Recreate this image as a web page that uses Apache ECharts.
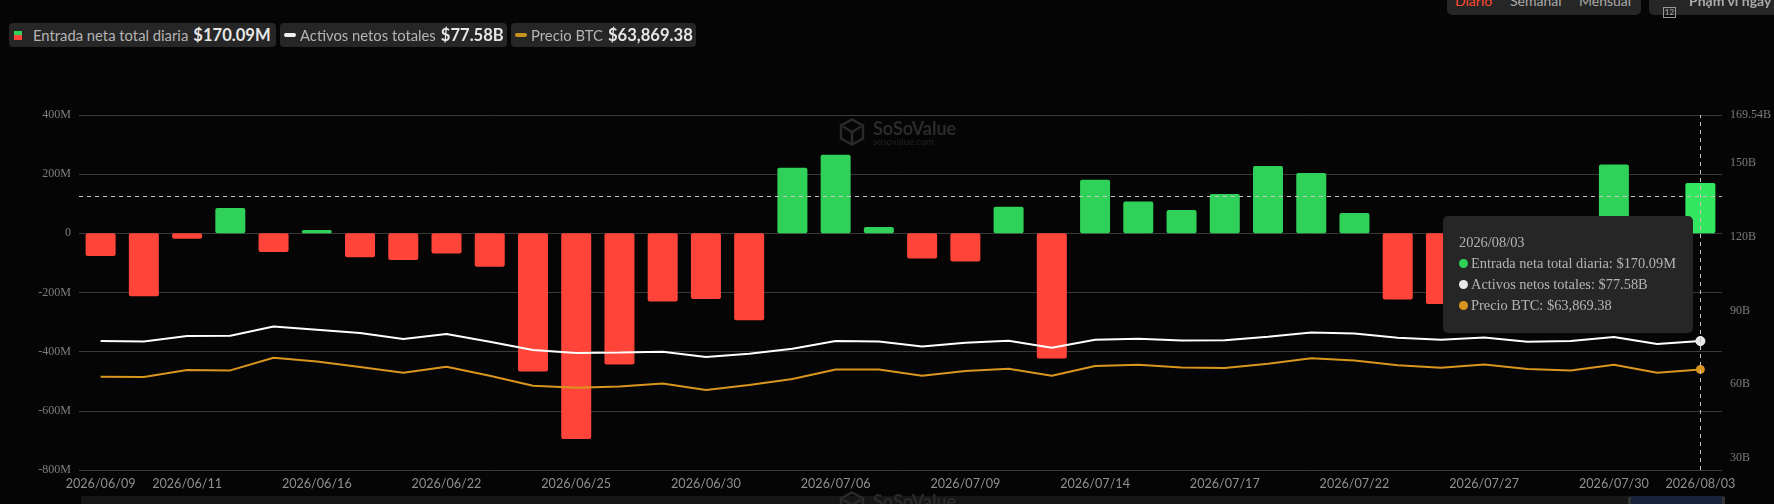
<!DOCTYPE html>
<html>
<head>
<meta charset="utf-8">
<title>Entrada neta total diaria</title>
<script src="https://cdn.jsdelivr.net/npm/echarts@6/dist/echarts.min.js"></script>
<style>
html,body{margin:0;padding:0;background:#050505;width:1774px;height:504px;overflow:hidden}
#main{position:absolute;left:0;top:0;width:1774px;height:504px}
.chip{position:absolute;top:23px;height:24px;background:#262626;border-radius:4px;box-sizing:border-box;display:flex;align-items:center;white-space:nowrap;font-family:Lato,sans-serif;color:#b4b4b4;font-size:14.8px;z-index:5}
.chip b{color:#e6e6e6;font-size:16.6px;font-weight:700;margin-left:5px}
.pill{width:12px;height:4px;border-radius:2px;margin-right:4px}
.sq{width:8px;height:9px;margin-right:11px;background:linear-gradient(#30d158 50%,#ff453a 50%)}
.top{position:absolute;top:-10px;height:25px;background:#262626;border-radius:5px;font-family:Lato,sans-serif;font-size:14px;color:#aaa;z-index:5;white-space:nowrap}
.top span{position:absolute;top:2px}
.cal{position:absolute;left:14px;top:17px;width:13px;height:11px;border:1px solid #999;box-sizing:border-box;font-size:8px;line-height:9px;text-align:center;color:#aaa;font-style:normal}
</style>
</head>
<body>
<div id="main"></div>
<div class="chip" style="left:9px;width:267px;padding-left:5px"><i class="sq"></i><span id="l0"></span><b id="v0"></b></div>
<div class="chip" style="left:280px;width:227px;padding-left:4px"><i class="pill" style="background:#f0f0f0"></i><span id="l1"></span><b id="v1"></b></div>
<div class="chip" style="left:511px;width:185px;padding-left:4px"><i class="pill" style="background:#c8921e"></i><span id="l2"></span><b id="v2"></b></div>
<div class="top" style="left:1447px;width:194px"><span style="left:8px;color:#ff4a32">Diario</span><span style="left:63px">Semanal</span><span style="left:132px">Mensual</span></div>
<div class="top" style="left:1649px;width:140px"><i class="cal">12</i><span style="left:40px;font-weight:700">Phạm vi ngày</span></div>
<script>
const names = ['Entrada neta total diaria', 'Activos netos totales', 'Precio BTC'];
const dates = ['2026/06/09','2026/06/10','2026/06/11','2026/06/12','2026/06/15','2026/06/16','2026/06/17','2026/06/18','2026/06/22','2026/06/23','2026/06/24','2026/06/25','2026/06/26','2026/06/29','2026/06/30','2026/07/01','2026/07/02','2026/07/06','2026/07/07','2026/07/08','2026/07/09','2026/07/10','2026/07/13','2026/07/14','2026/07/15','2026/07/16','2026/07/17','2026/07/20','2026/07/21','2026/07/22','2026/07/23','2026/07/24','2026/07/27','2026/07/28','2026/07/29','2026/07/30','2026/07/31','2026/08/03'];
const dateLabels = ['2026/06/09','2026/06/11','2026/06/16','2026/06/22','2026/06/25','2026/06/30','2026/07/06','2026/07/09','2026/07/14','2026/07/17','2026/07/22','2026/07/27','2026/07/30','2026/08/03'];
const netInflow = [-77,-213,-18,86,-63,11,-81,-90,-68,-113,-467,-695,-443,-230,-222,-294,222,266,21,-85,-95,90,-423,181,108,79,133,228,204,69,-224,-239,-100,-60,40,233,-80,170.09];
const netAssets = [77.58,77.42,79.61,79.74,83.52,82.18,80.83,78.39,80.43,77.30,73.92,72.70,72.94,73.23,71.07,72.41,74.45,77.58,77.42,75.38,76.89,77.70,74.85,78.11,78.52,77.82,77.90,79.33,81.08,80.63,78.92,78.11,79.04,77.30,77.58,79.21,76.36,77.58];
const btcPrice = [60899,60777,63625,63462,68629,67124,64845,62526,64967,61306,57238,56424,56953,58173,55488,57522,59963,63869,63869,61306,63218,64154,61306,65252,65781,64683,64479,66188,68425,67490,65578,64561,65903,64032,63462,65781,62526,63869.38];
const rightTicks = [169.54,150,120,90,60,30];
const crosshairInflow = 125.7;

const last = dates.length - 1;
const fmtInflow = '$' + netInflow[last].toFixed(2) + 'M';
const fmtAssets = '$' + netAssets[last].toFixed(2) + 'B';
const fmtPrice = '$' + btcPrice[last].toLocaleString('en-US', {minimumFractionDigits:2, maximumFractionDigits:2});
const vals = [fmtInflow, fmtAssets, fmtPrice];
names.forEach((n,i)=>{document.getElementById('l'+i).textContent=n;document.getElementById('v'+i).textContent=vals[i];});

const GREEN='#30d158', RED='#ff453a', WHITE='#ffffff', GOLD='#d9951e';
const chart = echarts.init(document.getElementById('main'), null, {renderer:'canvas'});
const endSymbol = (v, p) => p.dataIndex === last ? 'circle' : 'none';
const dot = c => `<span style="display:inline-block;width:9px;height:9px;border-radius:50%;background:${c};margin-right:3px"></span>`;
const mark = dy => [
  {type:'polygon',silent:true,z:0,shape:{points:[[852,119.5+dy],[863,125.5+dy],[863,138.5+dy],[852,144.5+dy],[841,138.5+dy],[841,125.5+dy]]},style:{fill:'none',stroke:'#2a2a2a',lineWidth:2.5}},
  {type:'polyline',silent:true,z:0,shape:{points:[[843,126.5+dy],[852,132+dy],[861,126.5+dy]]},style:{fill:'none',stroke:'#2a2a2a',lineWidth:2.5}},
  {type:'polyline',silent:true,z:0,shape:{points:[[852,132+dy],[852,143+dy]]},style:{fill:'none',stroke:'#2a2a2a',lineWidth:2.5}},
  {type:'text',silent:true,z:1,x:873,y:120+dy,style:{text:'SoSoValue',fill:'#2b2b2b',font:'bold 18px Lato'}},
  {type:'text',silent:true,z:1,x:873,y:137+dy,style:{text:'sosovalue.com',fill:'#232323',font:'9.5px Lato'}}
];
chart.setOption({
  animation:false,
  backgroundColor:'transparent',
  grid:{left:79,right:52,top:115,bottom:34,containLabel:false},
  xAxis:{type:'category',data:dates,
    axisLine:{show:false},axisTick:{show:false},
    axisLabel:{color:'#8f8f8f',fontFamily:'Lato',fontSize:12.6,margin:7,hideOverlap:false,
      interval:(i,v)=>dateLabels.includes(v)}},
  yAxis:[
    {type:'value',min:-800,max:400,interval:200,
      axisLine:{show:false},axisTick:{show:false},
      axisLabel:{color:'#7d7d7d',fontFamily:'Liberation Serif',fontSize:12,margin:8,formatter:v=>v===0?'0':v+'M'},
      splitLine:{lineStyle:{color:'#3a3a3a',width:1}}},
    {type:'value',position:'right',min:25.12,max:169.54,
      axisLine:{show:false},axisTick:{show:false},splitLine:{show:false},
      axisLabel:{customValues:rightTicks,color:'#7d7d7d',fontFamily:'Liberation Serif',fontSize:12,margin:8,formatter:v=>v+'B'}},
    {type:'value',show:false,min:22941,max:167368,splitLine:{show:false}}
  ],
  tooltip:{show:true,trigger:'item',triggerOn:'none',alwaysShowContent:true,
    position:[1443,216],transitionDuration:0,
    backgroundColor:'#262626',borderWidth:0,borderRadius:5,padding:[16,16,16,16],
    extraCssText:'box-shadow:none;width:250px;height:117px;box-sizing:border-box;',
    textStyle:{color:'#b4b4b4',fontFamily:'Liberation Serif',fontSize:14.4},
    formatter:()=>`<div style="line-height:21px;margin-top:0">${dates[last]}<br>${dot(GREEN)}${names[0]}: ${fmtInflow}<br>${dot('#e8e8e8')}${names[1]}: ${fmtAssets}<br>${dot(GOLD)}${names[2]}: ${fmtPrice}</div>`},
  graphic:[
    ...mark(0),
    {type:'rect',silent:true,z:0,shape:{x:81,y:496,width:1644,height:10},style:{fill:'#161616'}},
    {type:'rect',silent:true,z:0,shape:{x:1630,y:496,width:93,height:10},style:{fill:'#18233b'}},
    {type:'rect',silent:true,z:0,shape:{x:1628,y:497,width:3,height:10},style:{fill:'#333'}},
    {type:'rect',silent:true,z:0,shape:{x:1722,y:497,width:3,height:10},style:{fill:'#333'}},
    ...mark(373)
  ],
  series:[
    {name:names[0],type:'bar',yAxisIndex:0,barWidth:30,z:2,data:netInflow,
      itemStyle:{borderRadius:2,color:p=>p.dataIndex===last?'#33e65f':(p.value>=0?GREEN:RED)},
      markLine:{silent:true,symbol:'none',animation:false,z:8,label:{show:false},
        lineStyle:{color:'#c4c4c4',type:[4,4],width:1},
        data:[{yAxis:crosshairInflow},{xAxis:dates[last]}]}},
    {name:names[1],type:'line',yAxisIndex:1,data:netAssets,z:4,showAllSymbol:true,symbol:endSymbol,symbolSize:9,
      lineStyle:{color:WHITE,width:2},itemStyle:{color:'#e8e8e8',borderColor:'#fff',borderWidth:1}},
    {name:names[2],type:'line',yAxisIndex:2,data:btcPrice,z:4,showAllSymbol:true,symbol:endSymbol,symbolSize:8,
      lineStyle:{color:GOLD,width:2},itemStyle:{color:GOLD,borderColor:GOLD,borderWidth:1}}
  ]
});
chart.dispatchAction({type:'showTip',seriesIndex:0,dataIndex:last});
</script>
</body>
</html>
